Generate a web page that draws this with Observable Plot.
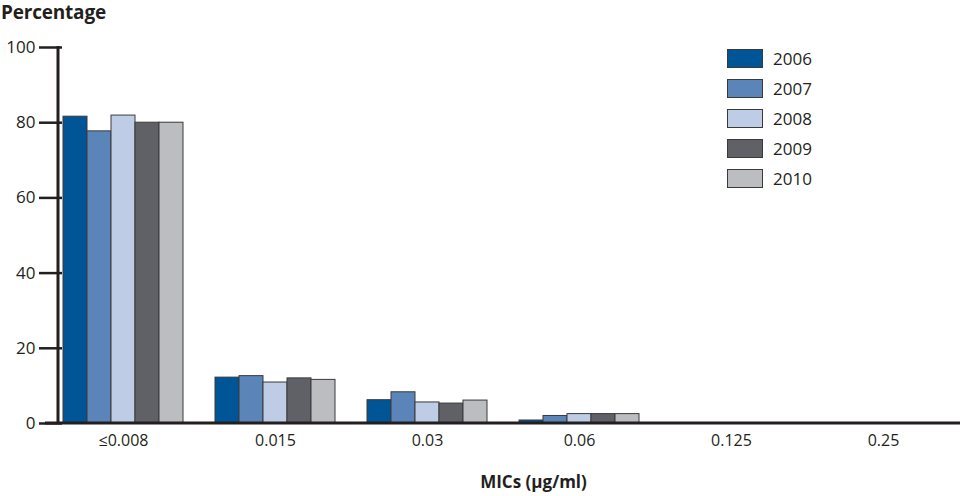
<!DOCTYPE html>
<html>
<head>
<meta charset="utf-8">
<script src="https://cdn.jsdelivr.net/npm/d3@7"></script>
<script src="https://cdn.jsdelivr.net/npm/@observablehq/plot@0.6"></script>
<style>
  body { margin: 0; background: #fff; font-family: "Open Sans", "Liberation Sans", sans-serif; color: #231f20; }
  #wrap { position: relative; width: 960px; height: 496px; }
  #title { height: 28px; font-weight: bold; font-size: 19px; line-height: 24px; padding-left: 1px; letter-spacing: -0.2px; }
  #legend { position: absolute; left: 727px; top: 43px; }
  .row { display: flex; align-items: center; height: 30px; }
  .sw { width: 34px; height: 17px; border: 1.5px solid #3a3a3a; box-sizing: content-box; }
  .lab { margin-left: 10px; font-size: 17px; }
  #chart svg text { fill: #231f20; }
  g[aria-label="y-axis tick label"] text, g[aria-label="y-axis tick label"] { font-size: 17px; }
  g[aria-label="fx-axis tick label"] text, g[aria-label="fx-axis tick label"] { font-size: 16px; }
  g[aria-label="fx-axis label"] text, g[aria-label="fx-axis label"] { font-size: 17px; font-weight: bold; }
</style>
</head>
<body>
<div id="wrap">
  <div id="title">Percentage</div>
  <div id="chart"></div>
  <div id="legend"></div>
</div>
<script>
const categories = ["≤0.008", "0.015", "0.03", "0.06", "0.125", "0.25"];
const years = ["2006", "2007", "2008", "2009", "2010"];
const colors = ["#005596", "#5b84b8", "#bfcce5", "#606166", "#bcbdc0"];
const v2006 = [81.6, 12.2, 6.2, 0.8, 0, 0];
const v2007 = [77.7, 12.6, 8.3, 2.0, 0, 0];
const v2008 = [81.9, 10.9, 5.6, 2.5, 0, 0];
const v2009 = [80.0, 12.0, 5.3, 2.5, 0.1, 0];
const v2010 = [80.0, 11.6, 6.1, 2.5, 0, 0];
const yTicks = [0, 20, 40, 60, 80, 100];

const series = [v2006, v2007, v2008, v2009, v2010];
const rows = [];
years.forEach((yr, i) => categories.forEach((c, j) => {
  if (series[i][j] > 0) rows.push({category: c, year: yr, value: series[i][j]});
}));

const plot = Plot.plot({
  width: 960,
  height: 468,
  marginTop: 19,
  marginBottom: 73,
  marginLeft: 58,
  marginRight: 12,
  style: {fontFamily: "'Open Sans', 'Liberation Sans', sans-serif", fontSize: "16px", color: "#231f20", background: "white"},
  fx: {domain: categories, paddingInner: 0.2, paddingOuter: 0.02, label: null},
  x: {domain: years, padding: 0, axis: null},
  y: {domain: [0, 100], label: null},
  color: {domain: years, range: colors},
  marks: [
    Plot.barY(rows, {fx: "category", x: "year", y: "value", fill: "year", stroke: "#3a3a3a", strokeWidth: 1}),
    Plot.axisY({ticks: yTicks, tickSize: 23, tickPadding: 4, tickFormat: d => d, label: null, strokeWidth: 2.5}),
    Plot.axisFx({anchor: "bottom", tickSize: 0, tickPadding: 11, label: "MICs (µg/ml)", labelAnchor: "center", labelOffset: 64, labelArrow: "none"})
  ]
});
document.getElementById("chart").appendChild(plot);

// baseline and y-axis line using the plot's scales
const svg = d3.select(plot);
const ys = plot.scale("y");
const fxs = plot.scale("fx");
const y0 = ys.apply(0), y100 = ys.apply(100);
const xLeft = fxs.range[0];
svg.append("line").attr("x1", xLeft - 13).attr("x2", 960).attr("y1", y0).attr("y2", y0)
  .attr("stroke", "#231f20").attr("stroke-width", 3);
svg.append("line").attr("x1", xLeft).attr("x2", xLeft).attr("y1", y100 - 1).attr("y2", y0)
  .attr("stroke", "#231f20").attr("stroke-width", 3);
// shift the x label right, as in the reference
svg.selectAll("g[aria-label='fx-axis label'] text").attr("dx", 30);

const legend = d3.select("#legend");
years.forEach((yr, i) => {
  const r = legend.append("div").attr("class", "row");
  r.append("div").attr("class", "sw").style("background", colors[i]);
  r.append("div").attr("class", "lab").text(yr);
});
</script>
</body>
</html>
